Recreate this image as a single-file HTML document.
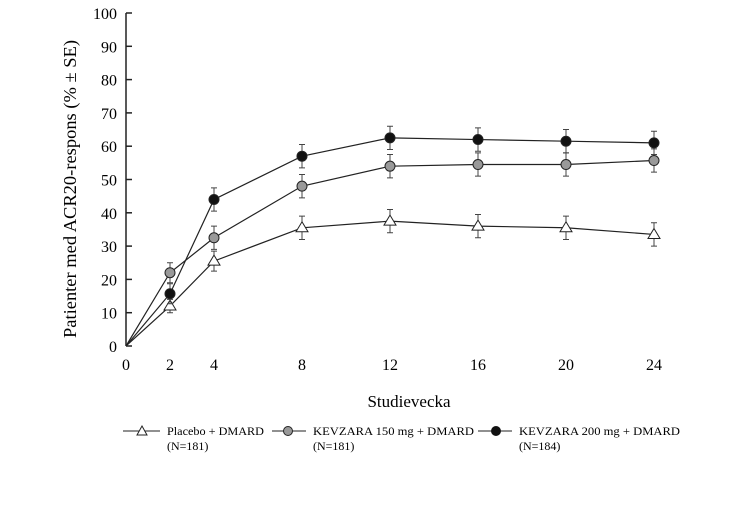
<!DOCTYPE html>
<html><head><meta charset="utf-8"><style>
body{margin:0;background:#fff;}
svg{display:block;font-family:"Liberation Serif",serif;}
</style></head><body>
<svg id="c" width="750" height="508">
<g id="axes"></g><g id="series"></g>
<text x="409" y="407" font-size="17" text-anchor="middle">Studievecka</text>
<text transform="translate(76,189) rotate(-90)" font-size="18" text-anchor="middle" textLength="298" lengthAdjust="spacingAndGlyphs">Patienter med ACR20-respons (% ± SE)</text>
<g font-size="12">
<g>
<line x1="123" y1="431" x2="160" y2="431" stroke="#222"/>
<polygon points="142,426 147,435 137,435" fill="#fff" stroke="#222"/>
<text x="167" y="435" textLength="97" lengthAdjust="spacingAndGlyphs">Placebo + DMARD</text><text x="167" y="450">(N=181)</text></g>
<g>
<line x1="272" y1="431" x2="306" y2="431" stroke="#222"/>
<circle cx="288" cy="431" r="4.5" fill="#999" stroke="#222"/>
<text x="313" y="435" textLength="161" lengthAdjust="spacingAndGlyphs">KEVZARA 150 mg + DMARD</text><text x="313" y="450">(N=181)</text></g>
<g>
<line x1="478" y1="431" x2="512" y2="431" stroke="#222"/>
<circle cx="496" cy="431" r="4.5" fill="#111" stroke="#111"/>
<text x="519" y="435" textLength="161" lengthAdjust="spacingAndGlyphs">KEVZARA 200 mg + DMARD</text><text x="519" y="450">(N=184)</text></g>
</g>
</svg>
<script>
const weeks=[0,2,4,8,12,16,20,24];
const yTicks=[0,10,20,30,40,50,60,70,80,90,100];
const placebo=[0,12,25.5,35.5,37.5,36,35.5,33.5];
const kev150=[0,22,32.5,48,54,54.5,54.5,55.7];
const kev200=[0,15.7,44,57,62.5,62,61.5,61];
const sePlacebo=[0,2,3,3.5,3.5,3.5,3.5,3.5];
const se150=[0,3,3.5,3.5,3.5,3.5,3.5,3.5];
const se200=[0,3,3.5,3.5,3.5,3.5,3.5,3.5];
const NS='http://www.w3.org/2000/svg';
const X=w=>126+w*22, Y=v=>346-v*3.33;
function mk(t,a,p){const e=document.createElementNS(NS,t);for(const k in a)e.setAttribute(k,a[k]);p.appendChild(e);return e;}
const ax=document.getElementById('axes');
const yl=mk('line',{x1:126,y1:Y(0),x2:126,y2:Y(100),stroke:'#222','stroke-width':1.5},ax);


yTicks.forEach(v=>{
 const t=mk('line',{x1:126,y1:Y(v),x2:132,y2:Y(v),stroke:'#222','stroke-width':1.5},ax);
 
 
 const l=mk('text',{x:117,y:Y(v)+6,'font-size':16,'text-anchor':'end'},ax);l.textContent=v;
 
 
});
weeks.forEach(w=>{
 const l=mk('text',{x:X(w),y:370,'font-size':16,'text-anchor':'middle'},ax);l.textContent=w;
 
 
});
const sg=document.getElementById('series');
function series(vals,se,type,name){
 const g=mk('g',{},sg);
 
 
 mk('polyline',{points:vals.map((v,i)=>X(weeks[i])+','+Y(v)).join(' '),fill:'none',stroke:'#222','stroke-width':1.2},g);
 vals.forEach((v,i)=>{
  if(i===0)return;
  const x=X(weeks[i]);
  const hi=Y(v+se[i]),lo=Y(v-se[i]);
  mk('path',{d:`M${x},${hi}V${lo}M${x-3},${hi}H${x+3}M${x-3},${lo}H${x+3}`,stroke:'#444','stroke-width':1},g);
  let m;
  if(type==='tri') m=mk('polygon',{points:`${x},${Y(v)-6} ${x+6},${Y(v)+4} ${x-6},${Y(v)+4}`,fill:'#fff',stroke:'#222'},g);
  else m=mk('circle',{cx:x,cy:Y(v),r:5,fill:type==='gray'?'#999':'#111',stroke:'#222'},g);
  
  
 });
}
series(placebo,sePlacebo,'tri','series-placebo');
series(kev150,se150,'gray','series-150mg');
series(kev200,se200,'black','series-200mg');
</script>
</body></html>
